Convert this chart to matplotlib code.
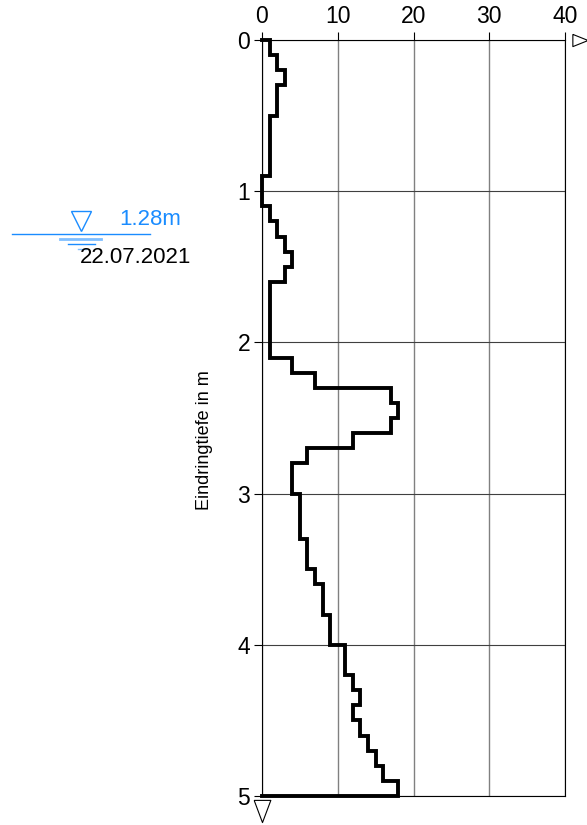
import numpy as np
import matplotlib
matplotlib.use('Agg')
import matplotlib.pyplot as plt

plt.rcParams['font.family'] = ['Liberation Sans', 'DejaVu Sans']

# blow counts per 10 cm layer, depth 0.0 .. 5.0 m
layer_top = np.round(np.arange(0, 5.0, 0.1), 1)
blows = [1, 2, 3, 2, 2, 1, 1, 1, 1, 0,
         0, 1, 2, 3, 4, 3, 1, 1, 1, 1,
         1, 4, 7, 17, 18, 17, 12, 6, 4, 4,
         5, 5, 5, 6, 6, 7, 8, 8, 9, 9,
         11, 11, 12, 13, 12, 13, 14, 15, 16, 18]
x_ticks = [0, 10, 20, 30, 40]
y_ticks = [0, 1, 2, 3, 4, 5]
water_level = 1.28
water_date = '22.07.2021'

# step outline
xs = [0]
ys = [0]
for top, n in zip(layer_top, blows):
    xs += [n, n]
    ys += [top, top + 0.1]
xs.append(0)
ys.append(5.0)

fig = plt.figure(figsize=(5.87, 8.25), dpi=100)
ax = fig.add_axes([262/587, 29/825, 303/587, 756/825])

ax.set_xlim(0, 40)
ax.set_ylim(5, 0)
ax.xaxis.tick_top()
ax.set_xticks(x_ticks)
ax.set_yticks(y_ticks)
ax.tick_params(axis='both', direction='out', length=5.5, width=0.8, labelsize=16.5, pad=3)

ax.grid(True, axis='x', color='#808080', linewidth=1)
ax.grid(True, axis='y', color='#404040', linewidth=0.8)
ax.set_axisbelow(True)
for sp in ax.spines.values():
    sp.set_color('black')
    sp.set_linewidth(0.8)

ax.plot(xs, ys, color='black', linewidth=2.8, solid_joinstyle='miter', clip_on=False, zorder=3)

ax.set_ylabel('Eindringtiefe in m', fontsize=13)
ax.yaxis.set_label_coords(-0.162, 0.471)

# axis arrow markers
tri_down = [(-0.75, 1), (0.75, 1), (0, -1), (-0.75, 1)]
tri_right = [(-1, 0.8), (-1, -0.8), (1, 0), (-1, 0.8)]
ax.plot([42.0], [0], marker=tri_right, markersize=11, markerfacecolor='white',
        markeredgecolor='black', markeredgewidth=0.8, clip_on=False)
ax.plot([0], [5.1], marker=tri_down, markersize=16, markerfacecolor='white',
        markeredgecolor='black', markeredgewidth=0.8, clip_on=False)

# groundwater symbol
blue = '#1a8cff'
light = '#80bfff'
ax.plot([-33, -14.8], [water_level, water_level], color=blue, linewidth=1, clip_on=False)
ax.plot([-23.9], [water_level - 0.08], marker='v', markersize=15, markerfacecolor='none',
        markeredgecolor=blue, markeredgewidth=1, clip_on=False)
ax.plot([-26.7, -21.2], [water_level + 0.035, water_level + 0.035], color=light, linewidth=2, clip_on=False)
ax.plot([-25.6, -22.1], [water_level + 0.068, water_level + 0.068], color=blue, linewidth=1, clip_on=False)
ax.plot([-24.3, -23.2], [water_level + 0.1, water_level + 0.1], color=light, linewidth=1, clip_on=False)
ax.text(-18.8, water_level - 0.055, f'{water_level:.2f}m', color=blue, fontsize=16,
        ha='left', va='baseline')
ax.text(-24.0, water_level + 0.16, water_date, color='black', fontsize=16,
        ha='left', va='center')

fig.savefig('out.png', dpi=100)
